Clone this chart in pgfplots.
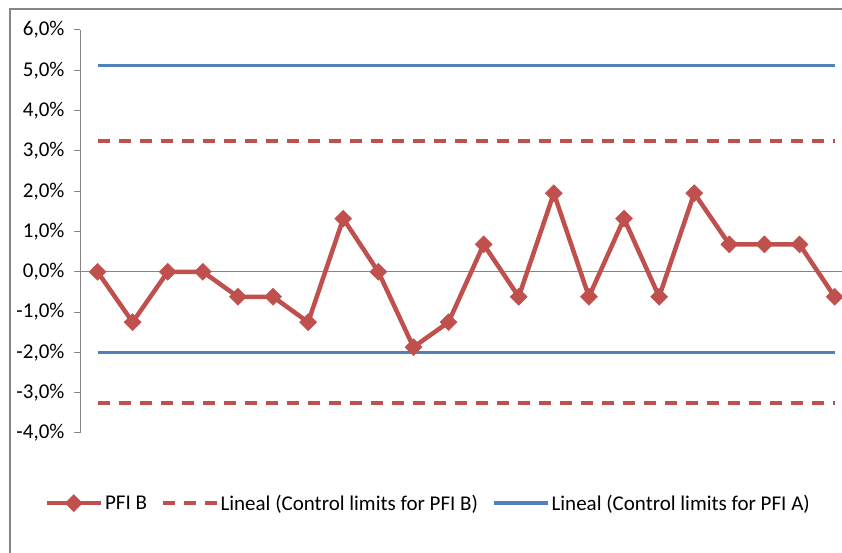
\documentclass[border=0pt]{standalone}
\usepackage{pgfplots}
\pgfplotsset{compat=1.18}
\usepackage{fontspec}
\setmainfont{Carlito}
\definecolor{exred}{RGB}{192,80,77}
\definecolor{exblue}{RGB}{79,129,189}
\definecolor{exgray}{RGB}{134,134,134}
\begin{document}
\begin{tikzpicture}[x=1pt,y=1pt]
\useasboundingbox (0,0) rectangle (842,553);
\draw[exgray, line width=2pt] (10,-5) -- (10,544) -- (850,544);
\begin{axis}[
  at={(80pt,120pt)}, anchor=south west,
  scale only axis, width=762pt, height=403pt,
  xmin=0.5, xmax=22.21, ymin=-4, ymax=6,
  axis x line=middle, axis y line=left,
  axis line style={exgray, -, line width=1pt},
  xtick=\empty,
  ytick={-4,-3,-2,-1,0,1,2,3,4,5,6},
  yticklabels={{-4,0\%},{-3,0\%},{-2,0\%},{-1,0\%},{0,0\%},{1,0\%},{2,0\%},{3,0\%},{4,0\%},{5,0\%},{6,0\%}},
  tick align=outside, major tick length=6pt,
  y tick style={exgray, line width=1pt},
  yticklabel style={font=\fontsize{21}{25}\selectfont, text=black, xshift=-6pt},
  clip=false,
  legend style={at={(0.457,-0.174)}, anchor=center, draw=none, fill=none,
    legend columns=3, font=\fontsize{21}{25}\selectfont,
    /tikz/every even column/.append style={column sep=12pt},
    inner sep=0pt, cells={anchor=west}},
  legend image code/.code={\draw[mark repeat=2,mark phase=2,#1] plot coordinates {(0pt,0pt) (27pt,0pt) (54pt,0pt)};},
]
\addplot[exred, line width=3.5pt, dash pattern=on 12pt off 9pt, forget plot] coordinates {(1,3.25) (22,3.25)};
\addplot[exred, line width=3.5pt, dash pattern=on 12pt off 9pt, forget plot] coordinates {(1,-3.25) (22,-3.25)};
\addplot[exblue, line width=3.5pt, forget plot] coordinates {(1,5.12) (22,5.12)};
\addplot[exblue, line width=3.5pt, forget plot] coordinates {(1,-2.0) (22,-2.0)};
\addplot[exred, line width=4.5pt, mark=square*, mark size=6pt, mark options={rotate=45, solid, fill=exred, draw=exred, line width=0.5pt}] coordinates {
(1,0) (2,-1.25) (3,0) (4,0) (5,-0.62) (6,-0.62) (7,-1.25) (8,1.32) (9,0) (10,-1.87) (11,-1.25)
(12,0.68) (13,-0.62) (14,1.95) (15,-0.62) (16,1.32) (17,-0.62) (18,1.95) (19,0.68) (20,0.68) (21,0.68) (22,-0.62)};
\addlegendimage{exred, line width=3.5pt, dash pattern=on 12pt off 9pt}
\addlegendimage{exblue, line width=3.5pt}
\legend{PFI B, Lineal (Control limits for PFI B), Lineal (Control limits for PFI A)}
\end{axis}
\end{tikzpicture}
\end{document}
